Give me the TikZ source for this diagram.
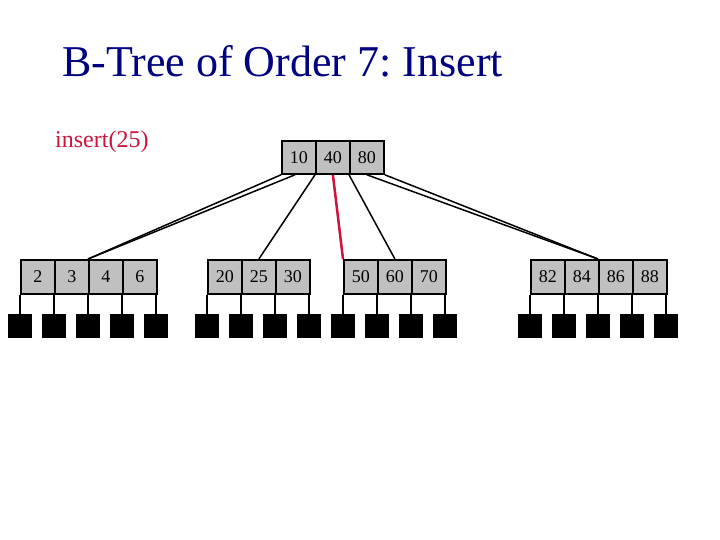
\documentclass[tikz,border=0pt]{standalone}
\usepackage{fontspec}
\setmainfont{Liberation Serif}
\frenchspacing
\definecolor{titleblue}{RGB}{0,0,128}
\definecolor{insred}{RGB}{204,20,60}
\definecolor{keygray}{RGB}{192,192,192}
\tikzset{
  key/.style={draw, fill=keygray, line width=1.8pt, minimum width=34pt,
    minimum height=34pt, inner sep=0pt, anchor=north west,
    font=\fontsize{18}{18}\selectfont},
  ptr/.style={fill=black, minimum size=24pt, inner sep=0pt},
  link/.style={line width=1.5pt},
}

\begin{document}
\begin{tikzpicture}[x=1pt,y=-1pt]
  \useasboundingbox (0,0) rectangle (720,540);
  % title and operation
  \node[anchor=base west, text=titleblue, inner sep=0pt,
    font=\fontsize{44}{44}\selectfont] (title) at (62,77) {B-Tree of Order 7: Insert};
  \node[anchor=base west, text=insred, inner sep=0pt,
    font=\fontsize{24}{24}\selectfont] (op) at (55,148) {insert(25)};

  % root node
  \foreach \k [count=\i from 0] in {10,40,80} {
    \node[key, minimum height=33pt] (r\i) at ({281+34*\i},140) {\k};
  }

  % leaves: name/left x/last pointer/keys
  \foreach \n/\x/\m/\keys in {a/20/4/{2,3,4,6}, b/207/3/{20,25,30},
      c/343/3/{50,60,70}, d/530/4/{82,84,86,88}} {
    \foreach \k [count=\i from 0] in \keys {
      \node[key] (l\n\i) at ({\x+34*\i},259) {\k};
    }
    % child pointers
    \foreach \j in {0,...,\m} {
      \node[ptr] (p\n\j) at ({\x+34*\j},326) {};
      \draw[link] (p\n\j.north) -- (p\n\j.north |- l\n0.south);
    }
  }

  % root to leaves
  \draw[link] (r0.south west) -- (la2.north west);
  \draw[link] ([xshift=14pt]r0.south west) -- (la2.north west);
  \draw[link] (r1.south west) -- (lb1.north);
  \draw[line width=2.5pt, insred] (r1.south) -- (lc0.north west);
  \draw[link] (r2.south west) -- (lc1.north);
  \draw[link] (r2.south) -- (ld2.north west);
  \draw[link] (r2.south east) -- (ld2.north west);
\end{tikzpicture}
\end{document}
